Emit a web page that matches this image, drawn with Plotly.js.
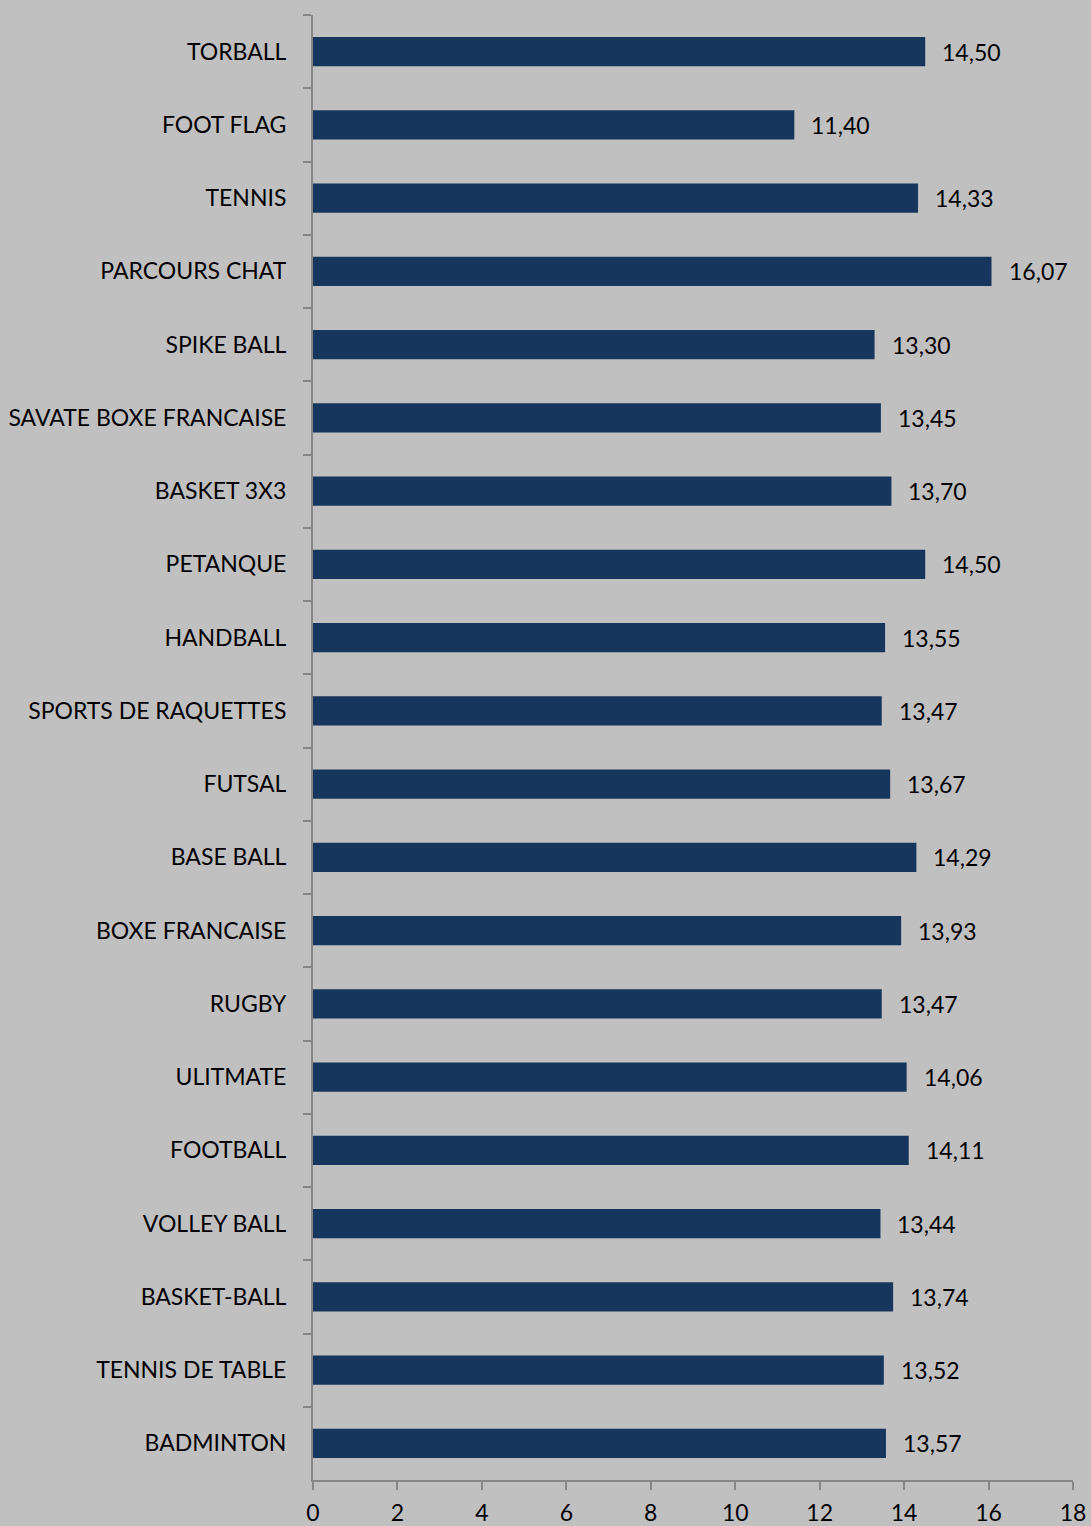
<!DOCTYPE html>
<html>
<head>
<meta charset="utf-8">
<script src="https://cdn.plot.ly/plotly-3.0.1.min.js"></script>
<style>html,body{margin:0;padding:0;background:#c0c0c0;}#chart{width:1091px;height:1526px;}</style>
</head>
<body>
<div id="chart"></div>
<script>
const categories = ["TORBALL","FOOT FLAG","TENNIS","PARCOURS CHAT","SPIKE BALL","SAVATE BOXE FRANCAISE","BASKET 3X3","PETANQUE","HANDBALL","SPORTS DE RAQUETTES","FUTSAL","BASE BALL","BOXE FRANCAISE","RUGBY","ULITMATE","FOOTBALL","VOLLEY BALL","BASKET-BALL","TENNIS DE TABLE","BADMINTON"];
const values = [14.50,11.40,14.33,16.07,13.30,13.45,13.70,14.50,13.55,13.47,13.67,14.29,13.93,13.47,14.06,14.11,13.44,13.74,13.52,13.57];
const xTicks = [0,2,4,6,8,10,12,14,16,18];

const fontFam = "Lato, 'Open Sans', sans-serif";
const annotations = categories.map((c,i)=>({
  x: values[i], y: c, xref:'x', yref:'y',
  text: values[i].toFixed(2).replace('.', ','),
  showarrow:false, xanchor:'left', yanchor:'middle', xshift:15,
  font:{family:fontFam,size:23,color:'#000'}
}));

Plotly.newPlot('chart', [{
  type:'bar', orientation:'h', x: values, y: categories,
  marker:{color:'#17365d', line:{width:0}},
  width:0.4, hoverinfo:'none'
}], {
  width:1091, height:1526,
  paper_bgcolor:'#c0c0c0', plot_bgcolor:'#c0c0c0',
  margin:{l:313, r:18, t:15, b:46},
  showlegend:false,
  font:{family:fontFam, size:22, color:'#000'},
  xaxis:{range:[0,18], tickvals:xTicks, ticktext:xTicks.map(String), showgrid:false, zeroline:false,
    showline:true, linecolor:'#868686', linewidth:2, ticks:'outside', ticklen:8, tickwidth:2, tickcolor:'#868686',
    ticklabelstandoff:3,
    tickfont:{family:fontFam,size:23,color:'#000'}, fixedrange:true},
  yaxis:{type:'category', autorange:'reversed', showgrid:false, zeroline:false,
    showline:true, linecolor:'#868686', linewidth:2, ticks:'outside', ticklen:8, tickwidth:2, tickcolor:'#868686',
    tickson:'boundaries', ticklabelstandoff:20,
    tickfont:{family:fontFam,size:23,color:'#000'}, fixedrange:true},
  annotations: annotations
}, {staticPlot:true});
</script>
</body>
</html>
